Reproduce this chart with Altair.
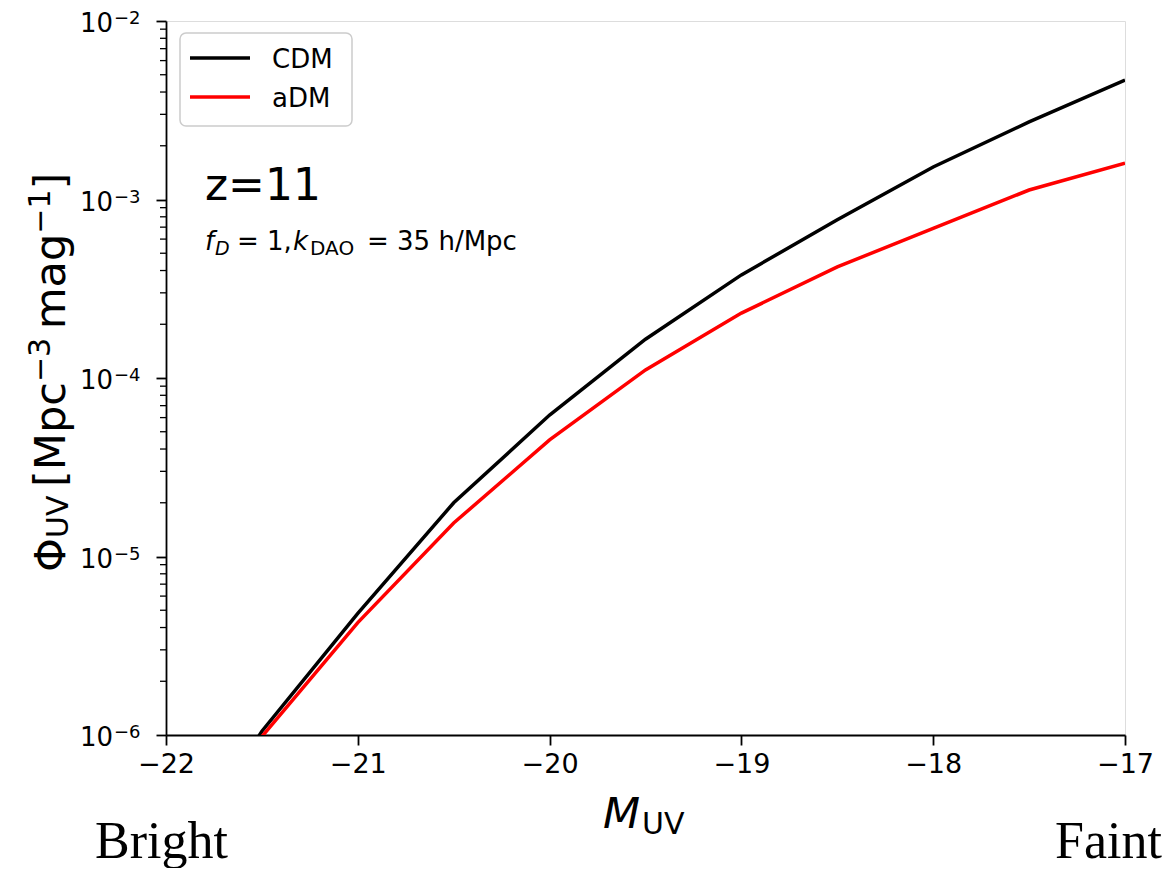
import altair as alt
import pandas as pd

# ---- data ----
M_UV = [-22.0, -21.5, -21.0, -20.5, -20.0, -19.5, -19.0, -18.5, -18.0, -17.5, -17.0]
PHI_CDM = [1.5e-7, 1.05e-6, 4.8e-6, 2.0e-5, 6.2e-5, 1.65e-4, 3.78e-4, 7.7e-4, 1.52e-3, 2.72e-3, 4.67e-3]
PHI_ADM = [1.8e-7, 0.98e-6, 4.26e-6, 1.54e-5, 4.5e-5, 1.11e-4, 2.31e-4, 4.19e-4, 6.9e-4, 1.13e-3, 1.60e-3]
MODELS = ["CDM", "aDM"]
COLORS = ["#000000", "#ff0000"]
X_TICKS = [-22, -21, -20, -19, -18, -17]
Y_TICKS = [1e-6, 1e-5, 1e-4, 1e-3, 1e-2]
Y_EXPONENTS = ["−6", "−5", "−4", "−3", "−2"]
Y_MINOR = [m * 10.0 ** e for e in (-6, -5, -4, -3) for m in range(2, 10)]

W, H = 959, 714
FONT = "DejaVu Sans"

rows = []
for name, vals in zip(MODELS, [PHI_CDM, PHI_ADM]):
    for m, v in zip(M_UV, vals):
        rows.append({"M": m, "phi": v, "model": name})
df = pd.DataFrame(rows)

xscale = alt.Scale(domain=[-22, -17], nice=False, zero=False)
yscale = alt.Scale(type="log", domain=[1e-6, 1e-2], nice=False)

lines = alt.Chart(df).mark_line(strokeWidth=3.5, clip=True).encode(
    x=alt.X("M:Q", scale=xscale,
            axis=alt.Axis(title="", values=X_TICKS, format="d", tickSize=10, tickWidth=1.8,
                          tickColor="black", domainColor="black", domainWidth=1.8,
                          labelFontSize=27, labelFont=FONT, labelColor="black",
                          labelPadding=6, grid=False, labelFlush=False)),
    y=alt.Y("phi:Q", scale=yscale,
            axis=alt.Axis(title="", values=Y_TICKS, labels=False, tickSize=10,
                          tickWidth=1.8, tickColor="black", domainColor="black",
                          domainWidth=1.8, grid=False)),
    color=alt.Color("model:N", scale=alt.Scale(domain=MODELS, range=COLORS), legend=None),
    detail="model:N",
)

minor = alt.Chart(pd.DataFrame({"v": Y_MINOR})).mark_rule(color="black", strokeWidth=1.3).encode(
    y=alt.Y("v:Q", scale=yscale),
    x=alt.value(-6),
    x2=alt.value(0),
)

# y tick labels: "10" with a raised exponent
ylab_df = pd.DataFrame({"v": Y_TICKS, "e": Y_EXPONENTS})
ylab_base = alt.Chart(ylab_df).mark_text(
    text="10", font=FONT, fontSize=26, align="right", baseline="alphabetic", color="black", dy=11
).encode(y=alt.Y("v:Q", scale=yscale), x=alt.value(-53))
ylab_exp = alt.Chart(ylab_df).mark_text(
    font=FONT, fontSize=18, align="left", baseline="alphabetic", color="black", dy=3
).encode(y=alt.Y("v:Q", scale=yscale), x=alt.value(-52), text="e:N")

layers = [minor, lines, ylab_base, ylab_exp]

# legend box
layers.append(
    alt.Chart(pd.DataFrame({"a": [0]})).mark_rect(
        fill="white", fillOpacity=0.8, stroke="#cccccc", strokeWidth=1.5, cornerRadius=6
    ).encode(x=alt.value(14), x2=alt.value(186), y=alt.value(12), y2=alt.value(105))
)
for name, col, ly in zip(MODELS, COLORS, [37, 76]):
    layers.append(
        alt.Chart(pd.DataFrame({"a": [0]})).mark_rule(color=col, strokeWidth=3.5).encode(
            x=alt.value(24), x2=alt.value(84), y=alt.value(ly))
    )
    layers.append(
        alt.Chart(pd.DataFrame({"a": [0]})).mark_text(
            text=name, font=FONT, fontSize=26, align="left", baseline="alphabetic", color="black"
        ).encode(x=alt.value(106), y=alt.value(ly + 10))
    )


def txt(s, x, y, size, style="normal", angle=0, font=FONT, align="left"):
    kw = dict(text=s, font=font, fontSize=size, align=align, baseline="alphabetic",
              color="black", fontStyle=style)
    if angle:
        kw["angle"] = angle
    return alt.Chart(pd.DataFrame({"a": [0]})).mark_text(**kw).encode(
        x=alt.value(x), y=alt.value(y))


# annotations
layers.append(txt("z=11", 39, 179, 44))
layers += [
    txt("f", 39, 229, 26, "italic"),
    txt("D", 49, 234, 19, "italic"),
    txt("= 1,", 71, 229, 26),
    txt("k", 127, 229, 26, "italic"),
    txt("DAO", 144, 234, 20),
    txt("= 35 h/Mpc", 201, 229, 26),
]

# x axis title  M_UV
layers += [
    txt("M", 437, 807, 43, "italic"),
    txt("UV", 476, 813, 30),
]

# y axis title (rotated): Φ_UV [Mpc^-3 mag^-1]
F, S = 43, 30
pieces = [
    ("Φ", F, 0, 0.790 * F),
    ("UV", S, 3, (0.732 + 0.684) * S),
    (None, F, 0, 0.2 * F),
    ("[", F, 0, 0.390 * F),
    ("Mpc", F, 0, (0.863 + 0.635 + 0.550) * F),
    ("−3", S, -15, (0.838 + 0.636) * S),
    (None, F, 0, 0.2 * F),
    ("mag", F, 0, (0.974 + 0.613 + 0.635) * F),
    ("−1", S, -15, (0.838 + 0.636) * S),
    ("]", F, 0, 0.390 * F),
]
ypos = 551.0
base_x = -101
for s, size, dx, adv in pieces:
    if s is not None:
        layers.append(txt(s, base_x + dx, ypos, size, angle=270))
    ypos -= adv

# Bright / Faint
layers.append(txt("Bright", -71, 837, 52, font="Liberation Serif"))
layers.append(txt("Faint", 996, 837, 52, font="Liberation Serif", align="right"))

chart = alt.layer(*layers).properties(
    width=W, height=H,
    autosize=alt.AutoSizeParams(type="none"),
    padding={"left": 158, "top": 13, "right": 39, "bottom": 133},
).configure_view(stroke="black", strokeWidth=1.8).configure(background="white")

chart.save("out.html", embed_options={"renderer": "svg", "actions": False})
